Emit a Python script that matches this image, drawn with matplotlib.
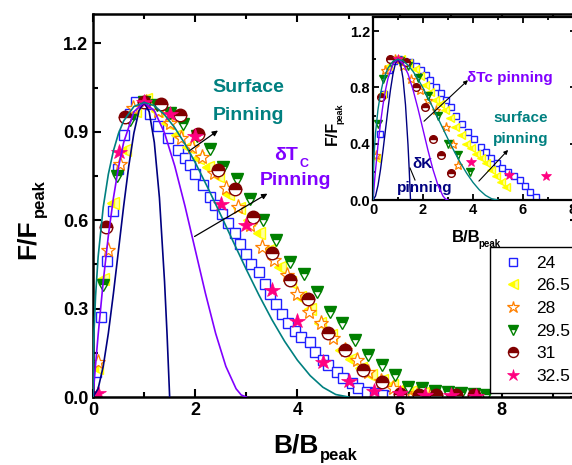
import numpy as np
import matplotlib
matplotlib.use("Agg")
import matplotlib.pyplot as plt

plt.rcParams['font.family'] = ['Liberation Sans', 'DejaVu Sans']

# ---- theoretical pinning curves ----
dk_x = [0, 0.1, 0.2, 0.3, 0.4, 0.5, 0.6, 0.7, 0.8, 0.9, 1.0, 1.1, 1.2, 1.3, 1.4, 1.45, 1.5]
dk_y = [0, 0.028, 0.104, 0.216, 0.352, 0.5, 0.648, 0.784, 0.896, 0.972, 1.0, 0.968, 0.864, 0.676, 0.392, 0.21, 0]
dtc_x = [0, 0.05, 0.1, 0.2, 0.3, 0.4, 0.5, 0.6, 0.8, 1.0, 1.2, 1.4, 1.6, 1.8, 2.0, 2.2, 2.4, 2.6, 2.8, 2.9, 3.0]
dtc_y = [0, 0.109, 0.21, 0.392, 0.547, 0.676, 0.781, 0.864, 0.968, 1.0, 0.972, 0.896, 0.784, 0.648, 0.5, 0.352, 0.216, 0.104, 0.028, 0.007, 0]
surf_x = [0, 0.01, 0.02, 0.05, 0.1, 0.2, 0.3, 0.4, 0.5, 0.6, 0.8, 1.0, 1.2, 1.4, 1.6, 1.8, 2.0, 2.25, 2.5,
          2.75, 3.0, 3.25, 3.5, 3.75, 4.0, 4.25, 4.5, 4.75, 5.0]
surf_y = [0, 0.156, 0.219, 0.342, 0.475, 0.644, 0.756, 0.836, 0.895, 0.937, 0.986, 1.0, 0.989, 0.958, 0.914,
          0.859, 0.796, 0.709, 0.618, 0.525, 0.433, 0.345, 0.263, 0.189, 0.125, 0.0725, 0.033, 0.0085, 0]

# ---- main panel data ----
t24_x = [0.06, 0.15, 0.28, 0.39, 0.48, 0.61, 0.72, 0.85, 1.0, 1.11, 1.27, 1.47, 1.66, 1.8, 1.9, 2.0, 2.16, 2.29,
         2.39, 2.52, 2.65, 2.77, 2.88, 3.0, 3.1, 3.24, 3.37, 3.46, 3.59, 3.69, 3.82, 3.95, 4.08, 4.25, 4.34, 4.51,
         4.6, 4.77, 4.9, 5.06, 5.19, 5.36, 5.52, 5.68, 5.85]
t24_y = [0.086, 0.27, 0.46, 0.63, 0.775, 0.89, 0.96, 1.0, 1.0, 0.96, 0.92, 0.88, 0.84, 0.81, 0.786, 0.758, 0.72,
         0.68, 0.65, 0.62, 0.59, 0.555, 0.52, 0.487, 0.45, 0.425, 0.385, 0.35, 0.317, 0.283, 0.25, 0.225, 0.204,
         0.187, 0.154, 0.125, 0.11, 0.086, 0.063, 0.046, 0.029, 0.018, 0.012, 0.007, 0.003]
t265_x = [0.07, 0.2, 0.39, 0.62, 0.82, 1.04, 1.25, 1.45, 1.65, 1.85, 2.05, 2.25, 2.45, 2.65, 2.85, 3.05, 3.25,
          3.45, 3.65, 3.85, 4.05, 4.25, 4.45, 4.65, 4.85, 5.05, 5.25, 5.45, 5.65, 5.85, 6.05, 6.25, 6.45, 6.65]
t265_y = [0.10, 0.40, 0.66, 0.84, 0.97, 1.01, 0.97, 0.93, 0.89, 0.85, 0.81, 0.78, 0.75, 0.69, 0.64, 0.6, 0.555,
          0.5, 0.44, 0.39, 0.34, 0.3, 0.25, 0.21, 0.16, 0.13, 0.1, 0.075, 0.058, 0.04, 0.028, 0.02, 0.014, 0.01]
t28_x = [0.1, 0.3, 0.53, 0.78, 1.03, 1.27, 1.5, 1.73, 1.93, 2.13, 2.37, 2.61, 2.84, 3.08, 3.31, 3.55, 3.79, 4.0,
         4.22, 4.46, 4.7, 4.93, 5.16, 5.39, 5.63, 5.87, 6.1, 6.35, 6.6]
t28_y = [0.12, 0.50, 0.79, 0.98, 1.0, 0.97, 0.93, 0.88, 0.85, 0.815, 0.76, 0.71, 0.645, 0.585, 0.51, 0.464, 0.414,
         0.35, 0.29, 0.25, 0.2, 0.16, 0.125, 0.086, 0.055, 0.029, 0.015, 0.008, 0.005]
t295_x = [0.2, 0.46, 0.72, 1.0, 1.25, 1.51, 1.77, 2.03, 2.29, 2.55, 2.81, 3.07, 3.33, 3.59, 3.86, 4.12, 4.38, 4.64,
          4.87, 5.13, 5.39, 5.65, 5.91, 6.17, 6.43, 6.69, 6.95, 7.2, 7.46, 7.7]
t295_y = [0.38, 0.75, 0.94, 1.0, 0.99, 0.965, 0.925, 0.885, 0.843, 0.78, 0.741, 0.673, 0.60, 0.532, 0.459, 0.419,
          0.357, 0.289, 0.25, 0.193, 0.142, 0.108, 0.075, 0.035, 0.029, 0.02, 0.017, 0.012, 0.01, 0.008]
t31_x = [0.25, 0.63, 0.99, 1.34, 1.7, 2.06, 2.45, 2.78, 3.14, 3.5, 3.86, 4.21, 4.6, 4.93, 5.29, 5.65, 6.0, 6.37,
         6.72, 7.1, 7.46]
t31_y = [0.577, 0.95, 1.0, 0.995, 0.956, 0.894, 0.77, 0.707, 0.61, 0.49, 0.397, 0.334, 0.216, 0.16, 0.092, 0.05,
         0.01, 0.007, 0.007, 0.007, 0.007]
t325_x = [0.1, 0.5, 1.0, 1.5, 2.0, 2.5, 3.0, 3.5, 4.0, 4.5, 5.0, 5.5, 6.0, 6.5, 7.0, 7.5]
t325_y = [0.013, 0.83, 1.0, 0.96, 0.885, 0.656, 0.583, 0.363, 0.258, 0.12, 0.055, 0.021, 0.012, 0.007, 0.006, 0.005]

# ---- inset data ----
i24_x = [0.27, 0.45, 0.65, 0.85, 1.05, 1.25, 1.47, 1.7, 1.93, 2.1, 2.27, 2.5, 2.73, 2.93, 3.13, 3.33, 3.57, 3.8,
         4.05, 4.33, 4.53, 4.73, 4.95, 5.17, 5.4, 5.63, 5.87, 6.07, 6.27, 6.53]
i24_y = [0.47, 0.75, 0.92, 0.99, 1.0, 0.99, 0.98, 0.95, 0.92, 0.89, 0.85, 0.8, 0.76, 0.71, 0.66, 0.6, 0.54, 0.48,
         0.43, 0.38, 0.34, 0.3, 0.26, 0.23, 0.2, 0.17, 0.14, 0.1, 0.06, 0.02]
i265_x = [0.13, 0.35, 0.6, 0.87, 1.1, 1.4, 1.67, 1.87, 2.07, 2.27, 2.47, 2.67, 2.87, 3.07, 3.27, 3.5, 3.73, 3.93,
          4.13, 4.33, 4.53, 4.73, 4.93, 5.13, 5.33]
i265_y = [0.3, 0.75, 0.95, 1.0, 1.0, 0.97, 0.93, 0.88, 0.82, 0.77, 0.71, 0.68, 0.64, 0.58, 0.52, 0.46, 0.4, 0.37,
          0.33, 0.3, 0.26, 0.21, 0.17, 0.13, 0.095]
i28_x = [0.13, 0.47, 0.87, 1.2, 1.53, 1.87, 2.2, 2.53, 2.93, 3.2, 3.4]
i28_y = [0.32, 0.92, 1.0, 0.95, 0.86, 0.78, 0.71, 0.64, 0.52, 0.4, 0.25]
i295_x = [0.2, 0.4, 0.73, 1.07, 1.4, 1.8, 2.2, 2.6, 3.0, 3.4, 3.87]
i295_y = [0.54, 0.86, 0.97, 0.99, 0.95, 0.87, 0.74, 0.6, 0.4, 0.32, 0.2]
i31_x = [0.33, 0.67, 1.33, 1.73, 2.07, 2.4, 2.73, 3.13]
i31_y = [0.73, 1.0, 0.98, 0.8, 0.66, 0.43, 0.32, 0.19]
i325_x = [1.0, 3.93, 5.44, 6.9]
i325_y = [1.0, 0.27, 0.18, 0.17]

labels = ['24', '26.5', '28', '29.5', '31', '32.5']

W, H = 572, 465
fig = plt.figure(figsize=(W / 100, H / 100), dpi=100)


def px(x, y):
    # pixel position (from top-left) -> figure fraction
    return x / W, 1 - y / H


ax = fig.add_axes([93 / W, (H - 397) / H, 485 / W, 383 / H])
ax.set_xlim(0, 485 / 51.1)
ax.set_ylim(0, 1.3)

styles = [
    dict(marker='s', color='#2020ff', mfc='white', mec='#2020ff', mew=1.0),
    dict(marker='<', color='#ffff00', mfc='#ffff00', mfcalt='#ffffa0', mec='#ffff00', fillstyle='left', mew=1.0),
    dict(marker='*', color='#ff8000', mfc='white', mec='#ff8000', mew=0.9),
    dict(marker='v', color='#008000', mfc='#008000', mfcalt='white', mec='#008000', fillstyle='top', mew=1.0),
    dict(marker='o', color='#800000', mfc='#800000', mfcalt='white', mec='#800000', fillstyle='top', mew=1.0),
    dict(marker='*', color='#ff0080', mfc='#ff0080', mec='#ff0080', mew=0.5),
]
main_sizes = [7.5, 9, 11, 9, 9, 11.5]
main_data = [(t24_x, t24_y), (t265_x, t265_y), (t28_x, t28_y), (t295_x, t295_y), (t31_x, t31_y),
             (t325_x, t325_y)]
handles = []
for (xs, ys), st, ms, lab in zip(main_data, styles, main_sizes, labels):
    h, = ax.plot(xs, ys, linestyle='none', ms=ms, label=lab, **st)
    handles.append(h)

ax.plot(dk_x, dk_y, color='#000080', lw=1.2, zorder=4)
ax.plot(dtc_x, dtc_y, color='#8000ff', lw=1.2, zorder=4)
ax.plot(surf_x, surf_y, color='#008080', lw=1.2, zorder=4)

ax.set_xticks([0, 2, 4, 6, 8])
ax.set_xticks([1, 3, 5, 7, 9], minor=True)
ax.set_yticks([0.0, 0.3, 0.6, 0.9, 1.2])
ax.set_yticks([0.15, 0.45, 0.75, 1.05], minor=True)
ax.set_yticklabels(['0.0', '0.3', '0.6', '0.9', '1.2'])
ax.tick_params(which='both', direction='in', top=True, right=True, width=1.5)
ax.tick_params(which='major', length=6, labelsize=13)
ax.tick_params(which='minor', length=3.5)
for lab in ax.get_xticklabels() + ax.get_yticklabels():
    lab.set_fontweight('bold')
for sp in ax.spines.values():
    sp.set_linewidth(1.8)

# axis labels with small subscripts
fig.text(*px(28, 239), 'F/F', rotation=90, fontsize=19, fontweight='bold', ha='center', va='center')
fig.text(*px(39, 198), 'peak', rotation=90, fontsize=12, fontweight='bold', ha='center', va='center')
fig.text(*px(273, 452), 'B/B', fontsize=19, fontweight='bold', ha='left', va='baseline')
fig.text(*px(320, 460), 'peak', fontsize=12, fontweight='bold', ha='left', va='baseline')

ax.text(3.03, 1.05, 'Surface', color='#008080', fontsize=14, fontweight='bold', ha='center', va='center')
ax.text(3.05, 0.956, 'Pinning', color='#008080', fontsize=14, fontweight='bold', ha='center', va='center')
ax.text(3.78, 0.82, 'δT', color='#8000ff', fontsize=14, fontweight='bold', ha='center', va='center')
ax.text(4.12, 0.79, 'C', color='#8000ff', fontsize=9, fontweight='bold', ha='center', va='center')
ax.text(3.97, 0.735, 'Pinning', color='#8000ff', fontsize=14, fontweight='bold', ha='center', va='center')
arrow = dict(arrowstyle='-|>', color='black', lw=0.9, mutation_scale=8)
ax.annotate('', xy=(2.49, 0.91), xytext=(1.84, 0.83), arrowprops=arrow, zorder=5)
ax.annotate('', xy=(3.46, 0.695), xytext=(1.94, 0.54), arrowprops=arrow, zorder=5)

leg = ax.legend(handles=handles, loc='upper left', bbox_to_anchor=px(490, 247),
                bbox_transform=fig.transFigure, fontsize=12.5, frameon=True, fancybox=False,
                framealpha=1, edgecolor='black', borderaxespad=0, labelspacing=0.43,
                handletextpad=0.55, handlelength=1.6, borderpad=0.5, markerscale=0.8)
leg.get_frame().set_linewidth(1.0)

# ---- inset ----
ins = fig.add_axes([373 / W, (H - 200) / H, 202.5 / W, 183 / H])
ins.set_xlim(0, 8.1)
ins.set_ylim(0, 1.3)
ins_sizes = [4.5, 5.5, 6.5, 5.5, 5.5, 7]
ins_data = [(i24_x, i24_y), (i265_x, i265_y), (i28_x, i28_y), (i295_x, i295_y), (i31_x, i31_y),
            (i325_x, i325_y)]
for (xs, ys), st, ms in zip(ins_data, styles, ins_sizes):
    ins.plot(xs, ys, linestyle='none', ms=ms, **st)
ins.plot(dk_x, dk_y, color='#000080', lw=1.0, zorder=4)
ins.plot(dtc_x, dtc_y, color='#8000ff', lw=1.0, zorder=4)
ins.plot(surf_x, surf_y, color='#008080', lw=1.0, zorder=4)

ins.set_xticks([0, 2, 4, 6, 8])
ins.set_xticks([1, 3, 5, 7], minor=True)
ins.set_yticks([0.0, 0.4, 0.8, 1.2])
ins.set_yticks([0.2, 0.6, 1.0], minor=True)
ins.set_yticklabels(['0.0', '0.4', '0.8', '1.2'])
ins.tick_params(which='both', direction='in', top=True, right=True, width=1.3, pad=2)
ins.tick_params(which='major', length=4, labelsize=10.5)
ins.tick_params(which='minor', length=2.5)
for lab in ins.get_xticklabels() + ins.get_yticklabels():
    lab.set_fontweight('bold')
for sp in ins.spines.values():
    sp.set_linewidth(1.6)

fig.text(*px(332, 133), 'F/F', rotation=90, fontsize=11.5, fontweight='bold', ha='center', va='center')
fig.text(*px(340, 114), 'peak', rotation=90, fontsize=6.5, fontweight='bold', ha='center', va='center')
fig.text(*px(452, 242), 'B/B', fontsize=12, fontweight='bold', ha='left', va='baseline')
fig.text(*px(478, 247), 'peak', fontsize=7, fontweight='bold', ha='left', va='baseline')

ins.text(5.46, 0.87, 'δTc pinning', color='#8000ff', fontsize=11, fontweight='bold', ha='center', va='center')
ins.text(5.9, 0.58, 'surface', color='#008080', fontsize=11, fontweight='bold', ha='center', va='center')
ins.text(5.9, 0.43, 'pinning', color='#008080', fontsize=11, fontweight='bold', ha='center', va='center')
ins.text(1.97, 0.255, 'δK', color='#000080', fontsize=11, fontweight='bold', ha='center', va='center')
ins.text(2.07, 0.085, 'pinning', color='#000080', fontsize=11, fontweight='bold', ha='center', va='center')
arrow2 = dict(arrowstyle='-|>', color='black', lw=0.8, mutation_scale=6)
ins.annotate('', xy=(3.88, 0.865), xytext=(1.96, 0.546), arrowprops=arrow2, zorder=5)
ins.annotate('', xy=(5.48, 0.37), xytext=(4.16, 0.12), arrowprops=arrow2, zorder=5)
ins.plot([1.48, 1.68], [0.227, 0.142], color='black', lw=0.8, zorder=5)

fig.savefig('out.png', dpi=100)
